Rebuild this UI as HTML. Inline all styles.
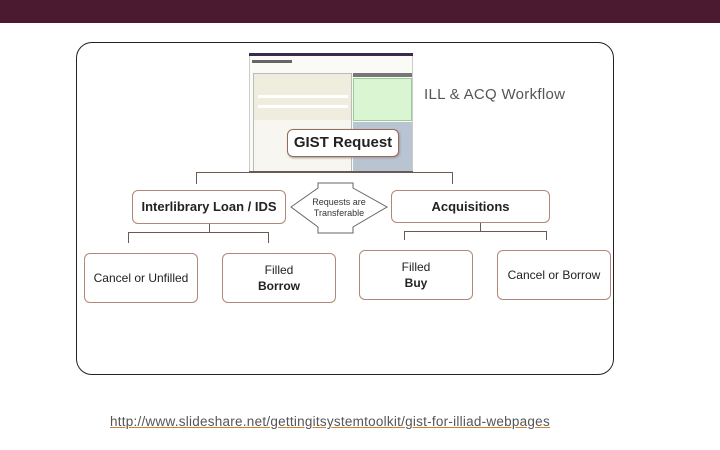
<!DOCTYPE html>
<html><head><style>
body{margin:0;width:720px;height:450px;background:#fff;position:relative;overflow:hidden;font-family:"Liberation Sans",sans-serif}
.a{position:absolute;box-sizing:border-box}
.box{position:absolute;box-sizing:border-box;border:1px solid #b08878;border-radius:6px;background:#fff;text-align:center;font-size:12px;color:#222;line-height:16px}
.box span{position:absolute;left:0;right:0;top:50%;transform:translateY(-50%)}
.ln{position:absolute;background:#6a5a50}
</style></head><body>
<div class="a" style="left:0;top:0;width:720px;height:23px;background:#4b1a31"></div>
<div class="a" style="left:76px;top:42px;width:538px;height:333px;border:1.5px solid #222;border-radius:16px"></div>
<!-- screenshot -->
<div class="a" style="left:249px;top:53px;width:164px;height:119px;background:#fafaf6;border:1px solid #ccc"></div>
<div class="a" style="left:249px;top:53px;width:164px;height:3px;background:#3a2a50"></div>
<div class="a" style="left:252px;top:60px;width:40px;height:3px;background:#666"></div>
<div class="a" style="left:253px;top:73px;width:99px;height:99px;background:#efedde;border:1px solid #bbb"></div>
<div class="a" style="left:258px;top:95px;width:90px;height:3px;background:#fff"></div>
<div class="a" style="left:258px;top:105px;width:90px;height:3px;background:#fff"></div>
<div class="a" style="left:254px;top:120px;width:97px;height:52px;background:#f7f6f0"></div>
<div class="a" style="left:353px;top:73px;width:59px;height:4px;background:#777"></div>
<div class="a" style="left:353px;top:78px;width:59px;height:43px;background:#d9f5d2;border:1px solid #9c9"></div>
<div class="a" style="left:353px;top:122px;width:59px;height:50px;background:#b9c4d3"></div>
<div class="ln" style="left:249px;top:171px;width:164px;height:1px"></div>
<div class="a" style="left:424px;top:86px;font-size:15px;color:#555;letter-spacing:0.3px">ILL &amp; ACQ Workflow</div>
<div class="box" style="left:287px;top:129px;width:112px;height:28px;font-weight:bold;font-size:15px;border-color:#9a6a5a;box-shadow:1px 1px 2px #999"><span>GIST Request</span></div>
<!-- connectors -->
<div class="ln" style="left:196px;top:172px;width:257px;height:1px"></div>
<div class="ln" style="left:196px;top:172px;width:1px;height:12px"></div>
<div class="ln" style="left:452px;top:172px;width:1px;height:12px"></div>
<div class="box" style="left:132px;top:190px;width:154px;height:34px;font-weight:bold;font-size:13px"><span>Interlibrary Loan / IDS</span></div>
<div class="box" style="left:391px;top:190px;width:159px;height:33px;font-weight:bold;font-size:13px"><span>Acquisitions</span></div>
<svg class="a" style="left:0;top:0" width="720" height="450">
<polygon points="291,207 318,188 318,183 353,183 353,188 387,207 353,227 353,233 318,233 318,227" fill="#fff" stroke="#666" stroke-width="1"/>
<text x="339" y="205" font-size="9" text-anchor="middle" fill="#333" font-family="Liberation Sans">Requests are</text>
<text x="339" y="216" font-size="9" text-anchor="middle" fill="#333" font-family="Liberation Sans">Transferable</text>
</svg>
<div class="ln" style="left:209px;top:224px;width:1px;height:8px"></div>
<div class="ln" style="left:128px;top:232px;width:141px;height:1px"></div>
<div class="ln" style="left:128px;top:232px;width:1px;height:11px"></div>
<div class="ln" style="left:268px;top:232px;width:1px;height:11px"></div>
<div class="ln" style="left:480px;top:223px;width:1px;height:8px"></div>
<div class="ln" style="left:404px;top:231px;width:143px;height:1px"></div>
<div class="ln" style="left:404px;top:231px;width:1px;height:9px"></div>
<div class="ln" style="left:546px;top:231px;width:1px;height:9px"></div>
<div class="box" style="left:84px;top:253px;width:114px;height:50px"><span>Cancel or Unfilled</span></div>
<div class="box" style="left:222px;top:253px;width:114px;height:50px"><span>Filled<br><b>Borrow</b></span></div>
<div class="box" style="left:359px;top:250px;width:114px;height:50px"><span>Filled<br><b>Buy</b></span></div>
<div class="box" style="left:497px;top:250px;width:114px;height:50px"><span>Cancel or Borrow</span></div>
<div class="a" style="left:110px;top:414px;font-size:13.5px;letter-spacing:0.25px;color:#555;text-decoration:underline;text-decoration-color:#d08030;white-space:nowrap">http://www.slideshare.net/gettingitsystemtoolkit/gist-for-illiad-webpages</div>
</body></html>
